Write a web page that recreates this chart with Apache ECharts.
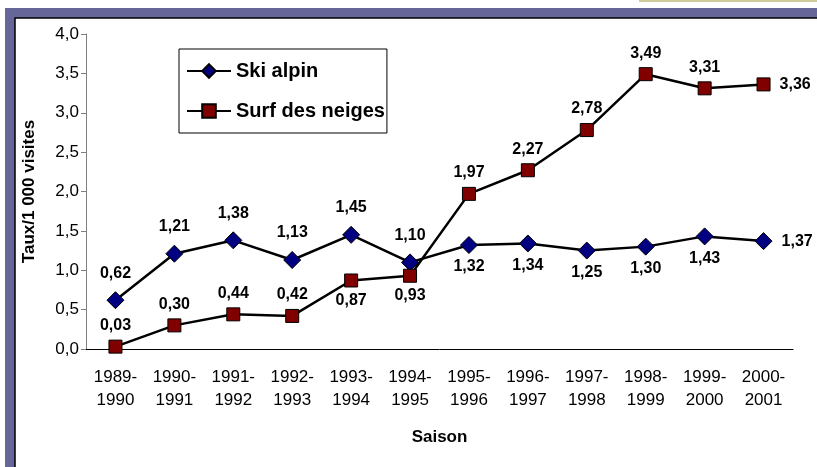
<!DOCTYPE html>
<html>
<head>
<meta charset="utf-8">
<script src="https://cdn.jsdelivr.net/npm/echarts@6/dist/echarts.min.js"></script>
<style>
  html, body { margin: 0; padding: 0; background: #fff; }
  #chart { width: 817px; height: 467px; }
</style>
</head>
<body>
<div id="chart"></div>
<script>
// saisons
const saisons = [
  '1989-\n1990', '1990-\n1991', '1991-\n1992', '1992-\n1993', '1993-\n1994', '1994-\n1995',
  '1995-\n1996', '1996-\n1997', '1997-\n1998', '1998-\n1999', '1999-\n2000', '2000-\n2001',
];
// taux / 1 000 visites
const skiAlpin = [0.62, 1.21, 1.38, 1.13, 1.45, 1.10, 1.32, 1.34, 1.25, 1.30, 1.43, 1.37];
const surfNeiges = [0.03, 0.30, 0.44, 0.42, 0.87, 0.93, 1.97, 2.27, 2.78, 3.49, 3.31, 3.36];
const yTicks = [0, 0.5, 1, 1.5, 2, 2.5, 3, 3.5, 4];

// placement des étiquettes
const skiLabelPos = ['top', 'top', 'top', 'top', 'top', 'top',
  'bottom', 'bottom', 'bottom', 'bottom', 'bottom', 'right'];
const surfLabelPos = ['top', 'top', 'top', 'top', 'bottom', 'bottom',
  'top', 'top', 'top', 'top', 'top', 'right'];

const FONT = '"Liberation Sans", Arial, sans-serif';
const fmt = (v) => Number(v).toFixed(2).replace('.', ',');

const chart = echarts.init(document.getElementById('chart'));

function withLabels(values, positions, dist) {
  return values.map((v, i) => ({
    value: v,
    label: {
      position: positions[i],
      distance: positions[i] === 'right' ? 9 : (positions[i] === 'top' ? dist[0] : dist[1]),
    },
  }));
}

const labelStyle = {
  show: true,
  fontFamily: FONT,
  fontSize: 16,
  fontWeight: 'bold',
  color: '#000',
  formatter: (p) => fmt(p.value),
};

const option = {
  backgroundColor: '#fff',
  animation: false,
  graphic: [
    { type: 'rect', z: -10, silent: true, shape: { x: 639, y: -10, width: 200, height: 12 },
      style: { fill: '#cfcc9c' } },
    { type: 'rect', z: -10, silent: true, shape: { x: 5, y: 8, width: 900, height: 600 },
      style: { fill: '#666699' } },
    { type: 'rect', z: -9, silent: true, shape: { x: 15, y: 18, width: 900, height: 600 },
      style: { fill: '#fff', stroke: '#000', lineWidth: 1.5 } },
  ],
  legend: {
    orient: 'vertical',
    left: 179,
    top: 49,
    padding: [12, 2, 12, 7],
    itemGap: 20,
    itemWidth: 44,
    itemHeight: 17,
    backgroundColor: '#fff',
    borderColor: '#000',
    borderWidth: 1,
    textStyle: { fontFamily: FONT, fontSize: 20, fontWeight: 'bold', color: '#000' },
    data: ['Ski alpin', 'Surf des neiges'],
  },
  grid: { left: 86, right: 24, top: 34, bottom: 118 },
  xAxis: {
    type: 'category',
    boundaryGap: true,
    data: saisons,
    name: 'Saison',
    nameLocation: 'middle',
    nameGap: 80,
    nameTextStyle: { fontFamily: FONT, fontSize: 17, fontWeight: 'bold', color: '#000' },
    axisLine: { lineStyle: { color: '#000', width: 1 } },
    axisTick: { length: 5, lineStyle: { color: '#000' } },
    axisLabel: {
      interval: 0,
      margin: 17,
      fontFamily: FONT,
      fontSize: 17,
      lineHeight: 23,
      color: '#000',
    },
  },
  yAxis: {
    type: 'value',
    min: yTicks[0],
    max: yTicks[yTicks.length - 1],
    interval: 0.5,
    name: 'Taux/1 000 visites',
    nameLocation: 'middle',
    nameGap: 48,
    nameTextStyle: { fontFamily: FONT, fontSize: 17, fontWeight: 'bold', color: '#000' },
    axisLine: { show: true, lineStyle: { color: '#808080', width: 1 } },
    axisTick: { show: true, length: 5, lineStyle: { color: '#808080' } },
    splitLine: { show: false },
    axisLabel: {
      margin: 7,
      fontFamily: FONT,
      fontSize: 17,
      color: '#000',
      formatter: (v) => v.toFixed(1).replace('.', ','),
    },
  },
  series: [
    {
      name: 'Ski alpin',
      type: 'line',
      data: withLabels(skiAlpin, skiLabelPos, [10, 5]),
      symbol: 'diamond',
      symbolSize: 17,
      itemStyle: { color: '#000080', borderColor: '#000', borderWidth: 1 },
      lineStyle: { color: '#000', width: 2.5 },
      label: labelStyle,
    },
    {
      name: 'Surf des neiges',
      type: 'line',
      data: withLabels(surfNeiges, surfLabelPos, [6, 5]),
      symbol: 'rect',
      symbolSize: 13,
      itemStyle: { color: '#800000', borderColor: '#000', borderWidth: 1 },
      lineStyle: { color: '#000', width: 2.5 },
      label: labelStyle,
    },
  ],
};

chart.setOption(option);
</script>
</body>
</html>
